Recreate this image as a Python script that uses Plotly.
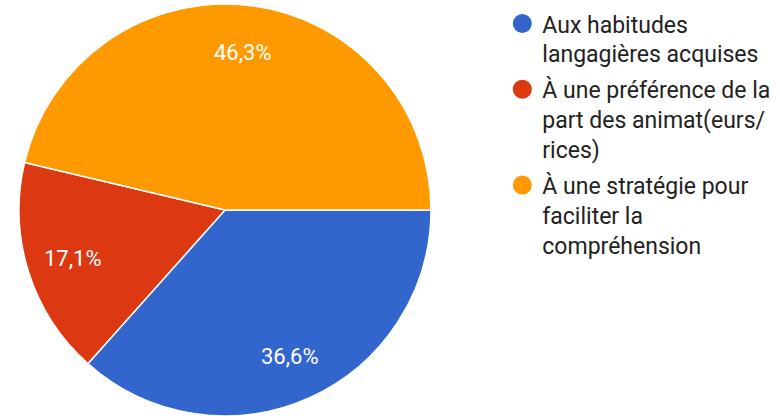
import math
import plotly.graph_objects as go

categories = [
    "Aux habitudes<br>langagières acquises",
    "À une préférence de la<br>part des animat(eurs/<br>rices)",
    "À une stratégie pour<br>faciliter la<br>compréhension",
]
values = [36.6, 17.1, 46.3]
colors = ["#3366cc", "#dc3912", "#ff9900"]

W, H = 780, 416
CX, CY, R = 225, 211, 207  # pixel geometry of the pie (layout, not data)

fig = go.Figure()
fig.add_trace(go.Pie(
    labels=categories,
    values=values,
    sort=False,
    direction="clockwise",
    rotation=90,
    marker=dict(colors=colors, line=dict(color="white", width=1.5)),
    textinfo="none",
    showlegend=False,
    hoverinfo="skip",
    domain=dict(x=[(CX - R) / W, (CX + R) / W], y=[max(0, (H - CY - R) / H), (H - CY + R) / H]),
))

for name, col in zip(categories, colors):
    fig.add_trace(go.Scatter(
        x=[None], y=[None], mode="markers", name=name,
        legendgroup=name,
        marker=dict(symbol="circle", size=16, color=col, line=dict(color=col, width=3)),
    ))

# percentage labels placed at each slice's mid-angle
total = sum(values)
annotations = []
cum = 0.0
for v in values:
    mid = (cum + v / 2) / total * 2 * math.pi  # clockwise from 3 o'clock
    cum += v
    r = 0.77 * R
    px = CX + r * math.cos(mid)
    py = CY + r * math.sin(mid)
    annotations.append(dict(
        x=px / W, y=1 - py / H, xref="paper", yref="paper",
        text=f"{v / total * 100:.1f}%".replace(".", ","),
        showarrow=False, xanchor="center", yanchor="middle",
        font=dict(family="Roboto", size=22, color="white"),
    ))

fig.update_layout(
    width=W, height=H,
    margin=dict(l=0, r=0, t=0, b=0),
    paper_bgcolor="white", plot_bgcolor="white",
    xaxis=dict(visible=False), yaxis=dict(visible=False),
    annotations=annotations,
    legend=dict(
        x=0.644, y=0.995, xanchor="left", yanchor="top",
        font=dict(family="Roboto", size=23, color="#222222"),
        valign="top", tracegroupgap=3,
        bgcolor="rgba(0,0,0,0)",
    ),
)

fig.write_html("out.html", config={"displayModeBar": False},
               post_script="document.body.style.margin='0';")
